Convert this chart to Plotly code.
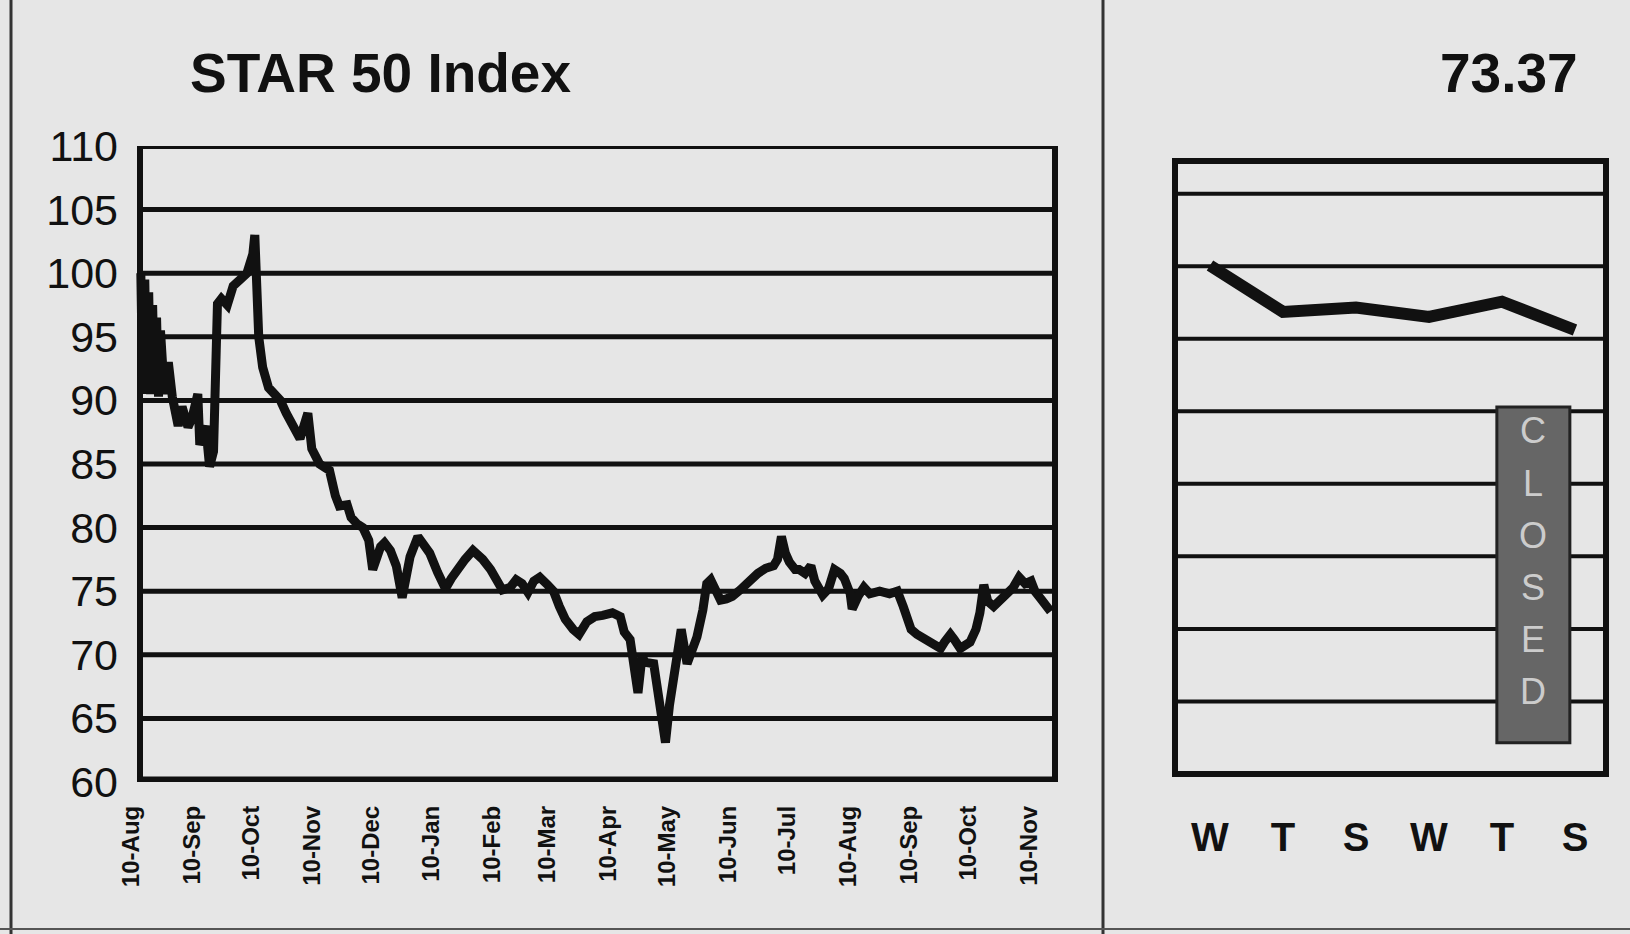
import pandas as pd
import plotly.graph_objects as go

W, H = 1630, 934
FONT = "Liberation Sans, Arial, Helvetica, sans-serif"
INK = "#111111"
BG = "#e6e6e6"

# ---------------- data ----------------
base_date = "2009-08-10"
day_offset = [5, 6, 7, 8, 9, 10, 11, 12, 13, 14,
              15, 17, 19, 21, 24, 26,
              29, 31, 34, 35, 38, 40, 42, 44, 46, 49,
              52, 55, 59, 62, 63, 65, 67, 70, 72, 76,
              79, 82, 86, 90, 92, 96, 101, 104, 106, 110,
              112, 115, 118, 121, 123, 127, 129, 132, 135, 138,
              142, 146, 149, 152, 156, 160, 163, 166, 170, 174,
              179, 183, 186, 189, 193, 196, 199, 202, 205, 208,
              212, 215, 218, 221, 225, 228, 232, 236, 240, 245,
              249, 251, 254, 256, 258, 260, 262, 266, 268, 270,
              272, 274, 276, 278, 280, 283, 286, 288, 291, 293,
              295, 298, 300, 303, 306, 310, 313, 317, 319, 323,
              327, 329, 331, 333, 335, 338, 340, 343, 346, 348,
              352, 355, 358, 361, 363, 366, 367, 370, 373, 376,
              381, 386, 390, 393, 395, 397, 400, 404, 407, 409,
              412, 414, 417, 419, 422, 424, 427, 430, 432, 434,
              436, 439, 442, 446, 449, 452, 455, 458, 460, 463,
              466, 468]
index_values = [100, 90.5, 99.5, 91, 98.5, 90.5, 97.5, 90.5, 96.5, 90.3,
                95.5, 90.5, 93, 90.3, 88, 89.5,
                87.9, 88.6, 90.5, 86.5, 88, 84.8, 86, 97.6, 98, 97.5,
                99, 99.5, 100, 101.5, 103, 95, 92.6, 91, 90.7, 90,
                89, 88, 87, 89, 86.2, 85, 84.5, 82.5, 81.7, 81.8,
                80.8, 80.3, 80, 79, 76.7, 78.5, 78.8, 78.2, 77, 74.5,
                77.7, 79.3, 78.5, 78, 76.5, 75.2, 76, 76.7, 77.5, 78.2,
                77.5, 76.7, 75.8, 75.1, 75.3, 75.9, 75.6, 74.9, 75.8, 76.1,
                75.5, 75, 73.8, 72.8, 72, 71.6, 72.6, 73, 73.1, 73.3,
                73, 71.8, 71.2, 69, 67, 69.8, 69.4, 69.3, 67, 64.5,
                63.1, 66, 68, 70.5, 72, 69.3, 70.5, 71.4, 73.5, 75.6,
                75.9, 74.8, 74.3, 74.4, 74.6, 75.1, 75.6, 76.3, 76.4, 76.8,
                77, 77.5, 79.3, 78, 77.3, 76.7, 76.7, 76.4, 77, 75.8,
                74.7, 75.2, 76.7, 76.4, 76, 74.8, 73.6, 74.6, 75.3, 74.8,
                75, 74.8, 75, 73.8, 72.7, 72, 71.6, 71.2, 71, 70.8,
                70.5, 71, 71.6, 71.2, 70.5, 70.7, 71, 72, 73.3, 75.5,
                74.2, 73.8, 74.2, 74.7, 75.3, 76.1, 75.6, 75.8, 75, 74.4,
                73.8, 73.4]
month_ticks = ["2009-08-10", "2009-09-10", "2009-10-10", "2009-11-10",
               "2009-12-10", "2010-01-10", "2010-02-10", "2010-03-10",
               "2010-04-10", "2010-05-10", "2010-06-10", "2010-07-10",
               "2010-08-10", "2010-09-10", "2010-10-10", "2010-11-10"]
y_ticks = [60, 65, 70, 75, 80, 85, 90, 95, 100, 105, 110]

week_days = ["W", "T", "S", "W", "T", "S"]
week_values = [74.26, 73.62, 73.68, 73.55, 73.76, 73.37]
week_grid = [68.25, 69.25, 70.25, 71.25, 72.25, 73.25, 74.25, 75.25]

title_text = "STAR 50 Index"
last_value_text = "73.37"
closed_text = "CLOSED"

# ---------------- figure ----------------
base = pd.Timestamp(base_date)
dates = [base + pd.Timedelta(days=d) for d in day_offset]
px_per_day = 1.965


def px(x):
    return x / W


def py(y):
    return 1 - y / H


fig = go.Figure()
fig.add_trace(go.Scatter(x=dates, y=index_values, mode="lines",
                         line=dict(color=INK, width=9), xaxis="x", yaxis="y",
                         hoverinfo="skip", showlegend=False))
fig.add_trace(go.Scatter(x=list(range(len(week_days))), y=week_values, mode="lines",
                         line=dict(color=INK, width=12), xaxis="x2", yaxis="y2",
                         hoverinfo="skip", showlegend=False))

x_start = base + pd.Timedelta(days=(125 - 131) / px_per_day)
x_end = base + pd.Timedelta(days=(1055 - 131) / px_per_day)

shapes = []
# left chart gridlines
for v in y_ticks[1:-1]:
    shapes.append(dict(type="line", xref="paper", yref="y", x0=px(140), x1=px(1055),
                       y0=v, y1=v, line=dict(color=INK, width=5), layer="below"))
# left chart box
shapes.append(dict(type="rect", xref="paper", yref="y", x0=px(140), x1=px(1055),
                   y0=y_ticks[0], y1=y_ticks[-1], line=dict(color=INK, width=6), layer="below"))
shapes.append(dict(type="line", xref="paper", yref="y", x0=px(137), x1=px(1058),
                   y0=y_ticks[0], y1=y_ticks[0], line=dict(color=INK, width=11), layer="below"))
# right chart gridlines and box
for v in week_grid:
    shapes.append(dict(type="line", xref="x2 domain", yref="y2", x0=0, x1=1,
                       y0=v, y1=v, line=dict(color=INK, width=4), layer="below"))
shapes.append(dict(type="rect", xref="x2 domain", yref="y2 domain", x0=0, x1=1,
                   y0=0, y1=1, line=dict(color=INK, width=6), layer="below"))
# CLOSED box
shapes.append(dict(type="rect", xref="x2", yref="y2", x0=3.93, x1=4.93, y0=67.68, y1=72.31,
                   fillcolor="#666666", line=dict(color="#222222", width=3), layer="above"))
# panel frame lines
shapes.append(dict(type="line", xref="paper", yref="paper", x0=px(11), x1=px(11), y0=0, y1=1,
                   line=dict(color="#333333", width=3)))
shapes.append(dict(type="line", xref="paper", yref="paper", x0=px(1103), x1=px(1103), y0=0, y1=1,
                   line=dict(color="#333333", width=3)))
shapes.append(dict(type="line", xref="paper", yref="paper", x0=0, x1=1, y0=py(929), y1=py(929),
                   line=dict(color="#555555", width=2)))

annotations = [
    dict(text=title_text, xref="paper", yref="paper", x=px(188), y=py(73), xanchor="left",
         yanchor="middle", showarrow=False,
         font=dict(family=FONT, size=55, color=INK, weight="bold")),
    dict(text=last_value_text, xref="paper", yref="paper", x=px(1580), y=py(73), xanchor="right",
         yanchor="middle", showarrow=False,
         font=dict(family=FONT, size=55, color=INK, weight="bold")),
]
for i, ch in enumerate(closed_text):
    annotations.append(dict(text=ch, xref="x2", yref="paper", x=4.43, y=py(431 + 52 * i),
                            xanchor="center", yanchor="middle", showarrow=False,
                            font=dict(family=FONT, size=36, color="#cccccc")))

fig.update_layout(
    width=W, height=H,
    margin=dict(l=0, r=0, t=0, b=0, pad=0),
    paper_bgcolor=BG, plot_bgcolor=BG,
    showlegend=False,
    xaxis=dict(domain=[px(125), px(1055)], type="date", range=[x_start, x_end],
               tickvals=month_ticks, tickformat="%d-%b", tickangle=-90,
               tickfont=dict(family=FONT, size=24, color=INK, weight="bold"),
               showgrid=False, zeroline=False, showline=False, ticks="",
               ticklabelstandoff=18, automargin=False, fixedrange=True),
    yaxis=dict(domain=[py(782), py(146)], range=[60, 110], tickvals=y_ticks,
               tickfont=dict(family=FONT, size=43, color=INK),
               showgrid=False, zeroline=False, showline=False, ticks="",
               ticklabelstandoff=6, automargin=False, fixedrange=True),
    xaxis2=dict(domain=[px(1175), px(1606)], range=[-0.479, 5.425], anchor="y2",
                tickvals=list(range(len(week_days))), ticktext=week_days,
                tickfont=dict(family=FONT, size=40, color=INK, weight="bold"),
                showgrid=False, zeroline=False, showline=False, ticks="",
                ticklabelstandoff=36, automargin=False, fixedrange=True),
    yaxis2=dict(domain=[py(774), py(161)], range=[67.25, 75.7], anchor="x2",
                showticklabels=False, showgrid=False, zeroline=False, showline=False,
                ticks="", automargin=False, fixedrange=True),
    shapes=shapes,
    annotations=annotations,
)

fig.write_html("out.html", config={"displayModeBar": False},
               post_script="document.body.style.margin='0';document.body.style.overflow='hidden';")
